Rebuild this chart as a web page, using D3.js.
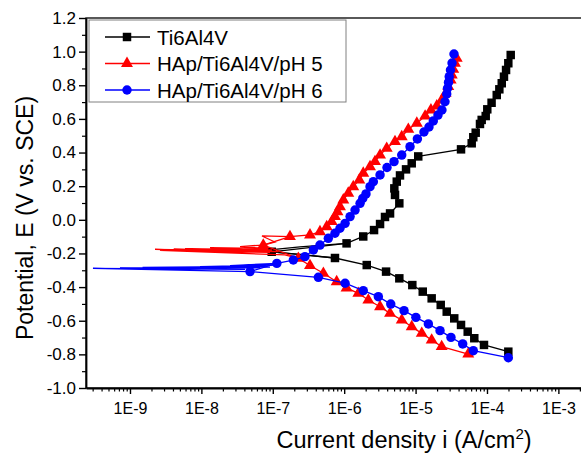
<!DOCTYPE html>
<html>
<head>
<meta charset="utf-8">
<title>polarization curves</title>
<script src="https://d3js.org/d3.v7.min.js"></script>
<style>
	body { margin: 0; background: #fff; }
	text { font-family: "Liberation Sans", Arial, sans-serif; fill: #000; }
</style>
</head>
<body>
<svg width="581" height="456"></svg>
<script>
// Ti6Al4V (black squares)
let tiCurrent = [1.99e-4, 9.08e-5, 6.64e-5, 5.37e-5, 4.33e-5, 3.48e-5, 2.73e-5, 2.25e-5, 1.68e-5, 1.26e-5,
	9.0e-6, 5.92e-6, 3.86e-6, 2.07e-6, 7.43e-7, 9.66e-8, 1.08e-6, 1.85e-6, 2.62e-6, 3.18e-6,
	3.73e-6, 4.39e-6, 5.92e-6, 5.15e-6, 5.04e-6, 5.45e-6, 6.05e-6, 7.35e-6, 8.83e-6, 1.09e-5,
	4.33e-5, 6.11e-5, 6.43e-5, 6.95e-5, 7.98e-5, 8.43e-5, 9.6e-5, 1.01e-4, 1.16e-4, 1.37e-4,
	1.49e-4, 1.61e-4, 1.73e-4, 1.85e-4, 1.99e-4, 2.15e-4];
let tiPotential = [-0.784, -0.744, -0.704, -0.665, -0.625, -0.586, -0.546, -0.506, -0.467, -0.427,
	-0.388, -0.348, -0.308, -0.269, -0.227, -0.190, -0.140, -0.099, -0.061, -0.025,
	0.017, 0.038, 0.098, 0.148, 0.187, 0.227, 0.264, 0.300, 0.336, 0.377,
	0.419, 0.455, 0.491, 0.518, 0.570, 0.594, 0.617, 0.657, 0.696, 0.742,
	0.776, 0.812, 0.851, 0.891, 0.931, 0.980];
// noisy part around Ecorr, line only
let tiTipCurrent = [7.43e-7, 2.40e-7, 9.66e-8, 4.8e-8, 1.07e-7, 2.40e-7, 1.08e-6];
let tiTipPotential = [-0.227, -0.206, -0.190, -0.179, -0.176, -0.161, -0.140];

// HAp/Ti6Al4V/pH 5 (red triangles)
let ph5Current = [5.47e-5, 2.32e-5, 1.68e-5, 1.22e-5, 8.83e-6, 6.40e-6, 4.39e-6, 3.18e-6, 2.18e-6, 1.58e-6,
	1.08e-6, 7.85e-7, 5.11e-7, 3.32e-7, 2.28e-7, 7.36e-8, 1.74e-7, 3.32e-7, 4.58e-7, 5.69e-7,
	6.68e-7, 7.43e-7, 8.05e-7, 8.73e-7, 9.73e-7, 1.14e-6, 1.34e-6, 1.63e-6, 1.85e-6, 2.30e-6,
	2.70e-6, 3.18e-6, 3.94e-6, 5.15e-6, 6.40e-6, 7.91e-6, 1.04e-5, 1.36e-5, 1.64e-5, 1.98e-5,
	2.32e-5, 2.64e-5, 2.87e-5, 3.10e-5, 3.21e-5, 3.37e-5, 3.56e-5, 3.77e-5];
let ph5Potential = [-0.798, -0.754, -0.715, -0.675, -0.636, -0.596, -0.556, -0.517, -0.477, -0.437,
	-0.405, -0.368, -0.318, -0.272, -0.229, -0.150, -0.100, -0.090, -0.071, -0.041,
	-0.011, 0.019, 0.048, 0.078, 0.118, 0.158, 0.197, 0.237, 0.277, 0.316,
	0.346, 0.385, 0.425, 0.465, 0.494, 0.538, 0.574, 0.617, 0.653, 0.677,
	0.712, 0.752, 0.792, 0.831, 0.861, 0.895, 0.931, 0.960];
let ph5TipCurrent = [2.28e-7, 1.48e-7, 2.63e-9, 9.14e-8, 2.24e-9, 7.78e-8, 5.90e-9, 9.75e-8, 4.1e-9, 1.2e-7,
	1.32e-8, 8.57e-8, 3.48e-8, 7.36e-8, 1.07e-7, 7.06e-8, 1.74e-7];
let ph5TipPotential = [-0.229, -0.209, -0.182, -0.194, -0.176, -0.185, -0.171, -0.179, -0.174, -0.189,
	-0.165, -0.171, -0.159, -0.150, -0.132, -0.096, -0.100];

// HAp/Ti6Al4V/pH 6 (blue circles)
let ph6Current = [1.99e-4, 6.43e-5, 4.57e-5, 3.13e-5, 2.20e-5, 1.51e-5, 1.01e-5, 6.89e-6, 4.49e-6, 3.01e-6,
	1.85e-6, 1.03e-6, 4.35e-7, 4.80e-8, 1.14e-7, 1.94e-7, 2.82e-7, 3.70e-7, 4.58e-7, 6.0e-7,
	7.43e-7, 8.73e-7, 1.03e-6, 1.21e-6, 1.42e-6, 1.67e-6, 1.82e-6, 2.02e-6, 2.30e-6, 2.56e-6,
	3.18e-6, 3.98e-6, 4.99e-6, 6.40e-6, 8.36e-6, 1.06e-5, 1.31e-5, 1.54e-5, 1.77e-5, 2.06e-5,
	2.34e-5, 2.58e-5, 2.73e-5, 2.80e-5, 2.89e-5, 2.96e-5, 3.08e-5, 3.24e-5, 3.45e-5];
let ph6Potential = [-0.820, -0.778, -0.738, -0.699, -0.659, -0.619, -0.580, -0.540, -0.501, -0.457,
	-0.421, -0.377, -0.342, -0.308, -0.259, -0.239, -0.219, -0.179, -0.150, -0.110,
	-0.080, -0.050, -0.021, 0.019, 0.058, 0.098, 0.127, 0.154, 0.197, 0.227,
	0.267, 0.311, 0.346, 0.385, 0.435, 0.481, 0.522, 0.552, 0.588, 0.623,
	0.653, 0.702, 0.748, 0.782, 0.817, 0.851, 0.891, 0.932, 0.986];
let ph6TipCurrent = [4.80e-8, 3.03e-10, 4.08e-8, 7.24e-10, 6.62e-8, 2.63e-9, 9.14e-8, 1.5e-9, 8.0e-8,
	9.57e-9, 1.07e-7, 2.52e-8, 1.14e-7];
let ph6TipPotential = [-0.308, -0.289, -0.295, -0.286, -0.286, -0.284, -0.281, -0.283, -0.276,
	-0.278, -0.269, -0.272, -0.259];

let seriesNames = ["Ti6Al4V", "HAp/Ti6Al4V/pH 5", "HAp/Ti6Al4V/pH 6"];
let seriesColors = ["#000000", "#ff0000", "#0000ff"];
let xTickValues = [1e-9, 1e-8, 1e-7, 1e-6, 1e-5, 1e-4, 1e-3];
let yTickValues = [-1.0, -0.8, -0.6, -0.4, -0.2, 0.0, 0.2, 0.4, 0.6, 0.8, 1.0, 1.2];

let svg = d3.select("svg");
let plotLeft = 86, plotTop = 18, plotBottom = 388;
let decade = 71.4;

let x = d3.scaleLog()
	.domain([Math.pow(10, -9.616), Math.pow(10, -2.4)])
	.range([plotLeft, plotLeft + 7.216 * decade]);
let y = d3.scaleLinear().domain([-1.0, 1.2]).range([plotBottom, plotTop]);

// frame (right side runs off the picture)
svg.append("rect")
	.attr("x", plotLeft).attr("y", plotTop)
	.attr("width", x.range()[1] - plotLeft).attr("height", plotBottom - plotTop)
	.attr("fill", "none").attr("stroke", "#000").attr("stroke-width", 1.3);

// minor x ticks
let minorX = [];
for (let e = -10; e <= -3; e++) {
	for (let m = 2; m <= 9; m++) {
		let v = m * Math.pow(10, e);
		if (v > x.domain()[0] && v < x.domain()[1]) minorX.push(v);
	}
}
svg.append("g")
	.attr("transform", "translate(0," + plotBottom + ")")
	.call(d3.axisBottom(x).tickValues(minorX).tickSize(3.5).tickFormat(""))
	.call(g => g.select(".domain").remove())
	.selectAll("line").attr("stroke-width", 1.2);

let xAxis = svg.append("g")
	.attr("transform", "translate(0," + plotBottom + ")")
	.call(d3.axisBottom(x).tickValues(xTickValues).tickSize(6).tickPadding(9).tickSizeOuter(0)
		.tickFormat(d => "1E" + Math.round(Math.log10(d))));
xAxis.select(".domain").attr("stroke-width", 1.8);
xAxis.selectAll("line").attr("stroke-width", 1.4);
xAxis.selectAll("text").attr("font-size", "16px").attr("font-family", null);

// y axis with minor ticks every 0.1
let minorY = d3.range(-0.9, 1.2, 0.2);
svg.append("g")
	.attr("transform", "translate(" + plotLeft + ",0)")
	.call(d3.axisLeft(y).tickValues(minorY).tickSize(4).tickFormat(""))
	.call(g => g.select(".domain").remove())
	.selectAll("line").attr("stroke-width", 1.2);

let yAxis = svg.append("g")
	.attr("transform", "translate(" + plotLeft + ",0)")
	.call(d3.axisLeft(y).tickValues(yTickValues).tickSize(7).tickPadding(3).tickSizeOuter(0)
		.tickFormat(d => d.toFixed(1)));
yAxis.select(".domain").attr("stroke-width", 1.8);
yAxis.selectAll("line").attr("stroke-width", 1.4);
yAxis.selectAll("text").attr("font-size", "17px").attr("font-family", null);

// axis titles
let xTitle = svg.append("text")
	.attr("x", 404).attr("y", 448)
	.attr("text-anchor", "middle")
	.attr("font-size", "23.5px");
xTitle.append("tspan").text("Current density i (A/cm");
xTitle.append("tspan").attr("font-size", "15px").attr("dy", -9).text("2");
xTitle.append("tspan").attr("dy", 9).text(")");

svg.append("text")
	.attr("transform", "translate(33,218) rotate(-90)")
	.attr("text-anchor", "middle")
	.attr("font-size", "23px")
	.text("Potential, E (V vs. SCE)");

// curves
let series = [
	{ current: tiCurrent, potential: tiPotential, tipI: tiTipCurrent, tipE: tiTipPotential, symbol: d3.symbolSquare, size: 72 },
	{ current: ph5Current, potential: ph5Potential, tipI: ph5TipCurrent, tipE: ph5TipPotential, symbol: d3.symbolTriangle, size: 62 },
	{ current: ph6Current, potential: ph6Potential, tipI: ph6TipCurrent, tipE: ph6TipPotential, symbol: d3.symbolCircle, size: 70 }
];

let line = d3.line().x(d => x(d[0])).y(d => y(d[1]));

series.forEach(function(s, k) {
	let pts = s.current.map((c, i) => [c, s.potential[i]]);
	let tip = s.tipI.map((c, i) => [c, s.tipE[i]]);
	let g = svg.append("g");
	g.append("path").datum(pts)
		.attr("fill", "none").attr("stroke", seriesColors[k]).attr("stroke-width", 1.3)
		.attr("d", line);
	g.append("path").datum(tip)
		.attr("fill", "none").attr("stroke", seriesColors[k]).attr("stroke-width", 1.3)
		.attr("d", line);
	g.selectAll("path.marker").data(pts).join("path")
		.attr("class", "marker")
		.attr("transform", d => "translate(" + x(d[0]) + "," + y(d[1]) + ")")
		.attr("fill", seriesColors[k])
		.attr("d", d3.symbol().type(s.symbol).size(s.size));
});

// legend
let legend = svg.append("g");
legend.append("rect")
	.attr("x", 89).attr("y", 20).attr("width", 257).attr("height", 82)
	.attr("fill", "#fff").attr("stroke", "#808080").attr("stroke-width", 1);
let rowY = d3.scaleLinear().domain([0, 2]).range([37, 90]);
series.forEach(function(s, k) {
	let ry = rowY(k);
	legend.append("line")
		.attr("x1", 105).attr("x2", 150).attr("y1", ry).attr("y2", ry)
		.attr("stroke", seriesColors[k]).attr("stroke-width", 1.3);
	legend.append("path")
		.attr("transform", "translate(127," + ry + ")")
		.attr("fill", seriesColors[k])
		.attr("d", d3.symbol().type(s.symbol).size(s.size));
	legend.append("text")
		.attr("x", 157).attr("y", ry + 7.5)
		.attr("font-size", "20.5px")
		.text(seriesNames[k]);
});
</script>
</body>
</html>
